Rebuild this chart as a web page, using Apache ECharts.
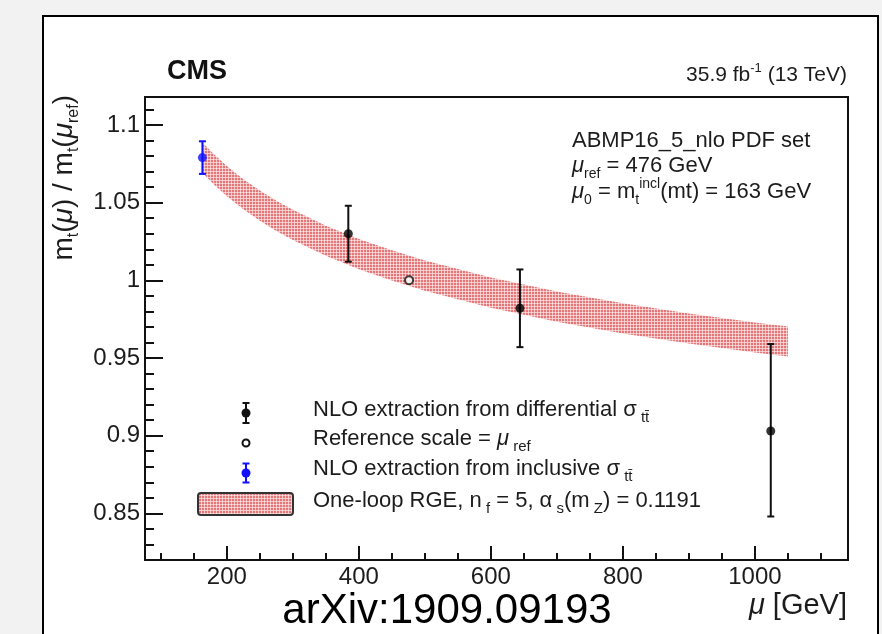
<!DOCTYPE html>
<html><head><meta charset="utf-8">
<script src="https://cdn.jsdelivr.net/npm/echarts@6/dist/echarts.min.js"></script>
<style>
html,body{margin:0;padding:0;background:#f2f2f2;overflow:hidden;width:882px;height:634px}
#panel{position:absolute;left:42px;top:15px;width:837px;height:700px;background:#fff;border:2px solid #000;box-sizing:border-box}
#c{position:absolute;left:0;top:0;width:882px;height:634px}
</style>
</head><body><div id="panel"></div><div id="c"></div>
<script>
// ---- data ----
const muDiff = [384, 644, 1024];
const ratioDiff = [1.030, 0.982, 0.903];
const errDiffUp = [0.018, 0.025, 0.056];
const errDiffDown = [0.018, 0.025, 0.055];
const muRef = [476];
const ratioRef = [1.000];
const muIncl = [163];
const ratioIncl = [1.079];
const errInclUp = [0.0105];
const errInclDown = [0.0105];
const bandMu = [163, 180, 200, 225, 250, 275, 300, 350, 400, 450, 500, 600, 700, 800, 900, 1000, 1050];
const bandLow = [1.0693, 1.0619, 1.0542, 1.0457, 1.0384, 1.0318, 1.0260, 1.0158, 1.0072, 0.9999, 0.9933, 0.9824, 0.9734, 0.9658, 0.9593, 0.9535, 0.9509];
const bandHigh = [1.0887, 1.0813, 1.0736, 1.0651, 1.0578, 1.0512, 1.0454, 1.0352, 1.0266, 1.0193, 1.0127, 1.0018, 0.9928, 0.9852, 0.9787, 0.9729, 0.9703];
const xMajorTicks = [200, 400, 600, 800, 1000];
const xMinorTicks = [100, 150, 250, 300, 350, 450, 500, 550, 650, 700, 750, 850, 900, 950, 1050, 1100];
const yMajorTicks = [0.85, 0.9, 0.95, 1, 1.05, 1.1];
const yMinorTicks = [0.83, 0.84, 0.86, 0.87, 0.88, 0.89, 0.91, 0.92, 0.93, 0.94, 0.96, 0.97, 0.98, 0.99, 1.01, 1.02, 1.03, 1.04, 1.06, 1.07, 1.08, 1.09, 1.11];

const FF = '"Liberation Sans", Arial, Helvetica, sans-serif';
const TXT = '#1c1c1c';

// hatch pattern for the RGE band
function makePattern() {
  const c = document.createElement('canvas');
  c.width = 3; c.height = 3;
  const g = c.getContext('2d');
  g.fillStyle = '#e3777a'; g.fillRect(0, 0, 3, 3);
  g.fillStyle = 'rgba(255,240,240,0.65)';
  g.fillRect(0, 0, 3, 1);
  g.fillRect(0, 0, 1, 3);
  return {image: c, repeat: 'repeat'};
}
const bandFill = makePattern();

function rich(fs, H, sfs, d) {
  const h = H - 2 * d;
  return {
    n: {fontSize: fs, lineHeight: H, fontFamily: FF, fill: TXT},
    g: {fontSize: fs, lineHeight: H, fontFamily: FF, fill: TXT, fontStyle: 'italic'},
    b: {fontSize: sfs, lineHeight: h, fontFamily: FF, fill: TXT, verticalAlign: 'bottom'},
    p: {fontSize: sfs, lineHeight: h, fontFamily: FF, fill: TXT, verticalAlign: 'top'}
  };
}
function txt(x, y, text, r, align, extra) {
  return Object.assign({type: 'text', x: x, y: y, z: 50,
    style: {text: text, rich: r, align: align || 'left', verticalAlign: 'middle', fontFamily: FF, fill: TXT}}, extra || {});
}

const legR = rich(22, 30, 15, 8);
const annR = rich(22, 30, 14, 8);

function errBarRender(color) {
  return function (params, api) {
    const x = api.value(0), y = api.value(1), up = api.value(2), dn = api.value(3);
    const t = api.coord([x, y + up]), b = api.coord([x, y - dn]);
    const cw = 3.5;
    const st = {stroke: color, lineWidth: 2};
    return {type: 'group', children: [
      {type: 'line', shape: {x1: t[0], y1: t[1], x2: b[0], y2: b[1]}, style: st},
      {type: 'line', shape: {x1: t[0] - cw, y1: t[1], x2: t[0] + cw, y2: t[1]}, style: st},
      {type: 'line', shape: {x1: b[0] - cw, y1: b[1], x2: b[0] + cw, y2: b[1]}, style: st}
    ]};
  };
}

function legendBar(cx, cy, color, half) {
  const st = {stroke: color, lineWidth: 2};
  return [
    {type: 'line', z: 50, shape: {x1: cx, y1: cy - half, x2: cx, y2: cy + half}, style: st},
    {type: 'line', z: 50, shape: {x1: cx - 3.5, y1: cy - half, x2: cx + 3.5, y2: cy - half}, style: st},
    {type: 'line', z: 50, shape: {x1: cx - 3.5, y1: cy + half, x2: cx + 3.5, y2: cy + half}, style: st},
    {type: 'circle', z: 51, shape: {cx: cx, cy: cy, r: 4.5}, style: {fill: color}}
  ];
}

const chart = echarts.init(document.getElementById('c'), null, {renderer: 'canvas'});
const axisCommon = {type: 'value', splitLine: {show: false}};
const plainNum = v => String(v);
chart.setOption({
  backgroundColor: 'transparent',
  animation: false,
  grid: {left: 145, right: 34, top: 97, bottom: 74, show: true, borderColor: '#111', borderWidth: 2, containLabel: false, outerBoundsMode: 'none'},
  xAxis: [
    Object.assign({}, axisCommon, {min: 76, max: 1141, position: 'bottom',
      axisLine: {show: true, lineStyle: {color: '#111', width: 2}},
      axisTick: {show: true, inside: true, length: 14, customValues: xMajorTicks, lineStyle: {color: '#111', width: 2}},
      axisLabel: {show: true, customValues: xMajorTicks, formatter: plainNum, fontSize: 24, fontFamily: FF, color: TXT, margin: 5}}),
    Object.assign({}, axisCommon, {min: 76, max: 1141, position: 'bottom', offset: 0,
      axisLine: {show: false},
      axisTick: {show: true, inside: true, length: 7, customValues: xMinorTicks, lineStyle: {color: '#111', width: 2}},
      axisLabel: {show: false}})
  ],
  yAxis: [
    Object.assign({}, axisCommon, {min: 0.82, max: 1.118, position: 'left',
      axisLine: {show: true, lineStyle: {color: '#111', width: 2}},
      axisTick: {show: true, inside: true, length: 18, customValues: yMajorTicks, lineStyle: {color: '#111', width: 2}},
      axisLabel: {show: true, customValues: yMajorTicks, formatter: plainNum, fontSize: 24, fontFamily: FF, color: TXT, margin: 5}}),
    Object.assign({}, axisCommon, {min: 0.82, max: 1.118, position: 'left', offset: 0,
      axisLine: {show: false},
      axisTick: {show: true, inside: true, length: 9, customValues: yMinorTicks, lineStyle: {color: '#111', width: 2}},
      axisLabel: {show: false}})
  ],
  series: [
    {type: 'custom', name: 'band', xAxisIndex: 0, yAxisIndex: 0, z: 2,
      data: [[bandMu[0], bandLow[0]]],
      renderItem: function (params, api) {
        const pts = [];
        for (let i = 0; i < bandMu.length; i++) pts.push(api.coord([bandMu[i], bandHigh[i]]));
        for (let i = bandMu.length - 1; i >= 0; i--) pts.push(api.coord([bandMu[i], bandLow[i]]));
        return {type: 'polygon', shape: {points: pts}, style: {fill: bandFill}};
      }},
    {type: 'custom', name: 'diffErr', z: 5,
      data: muDiff.map((m, i) => [m, ratioDiff[i], errDiffUp[i], errDiffDown[i]]),
      renderItem: errBarRender('#111')},
    {type: 'scatter', name: 'diff', z: 6, symbol: 'circle', symbolSize: 9,
      itemStyle: {color: '#000'},
      data: muDiff.map((m, i) => [m, ratioDiff[i]])},
    {type: 'scatter', name: 'ref', z: 6, symbol: 'circle', symbolSize: 8,
      itemStyle: {color: '#fff', borderColor: '#111', borderWidth: 2},
      data: muRef.map((m, i) => [m, ratioRef[i]])},
    {type: 'custom', name: 'inclErr', z: 5,
      data: muIncl.map((m, i) => [m, ratioIncl[i], errInclUp[i], errInclDown[i]]),
      renderItem: errBarRender('#1010ff')},
    {type: 'scatter', name: 'incl', z: 6, symbol: 'circle', symbolSize: 9,
      itemStyle: {color: '#1010ff'},
      data: muIncl.map((m, i) => [m, ratioIncl[i]])}
  ],
  graphic: {elements: [
    // CMS label and luminosity
    txt(167, 72, 'CMS', null, 'left', {style: {text: 'CMS', fontSize: 27, fontWeight: 'bold', fontFamily: FF, fill: '#111', align: 'left', verticalAlign: 'middle'}}),
    txt(847, 75, '{n|35.9 fb}{p|-1}{n| (13 TeV)}', rich(21, 26, 13, 7), 'right'),
    // annotations
    txt(572, 141, '{n|ABMP16_5_nlo PDF set}', annR),
    txt(572, 166, '{g|μ}{b|ref}{n| = 476 GeV}', annR),
    txt(572, 192, '{g|μ}{b|0}{n| = m}{b|t}{p|incl}{n|(mt) = 163 GeV}', annR),
    // axis titles
    txt(847, 606, '{g|μ}{n| [GeV]}', rich(29, 30, 16, 6), 'right'),
    txt(64, 95, '{n|m}{b|t}{n|(}{g|μ}{n|) / m}{b|t}{n|(}{g|μ}{b|ref}{n|)}', rich(28, 36, 16, 8), 'right', {rotation: Math.PI / 2}),
    // legend
    ...legendBar(246, 413, '#111', 10),
    txt(313, 410, '{n|NLO extraction from differential }{n|σ}{b| tt̄}', legR),
    {type: 'circle', z: 51, shape: {cx: 246, cy: 443, r: 3.5}, style: {fill: '#fff', stroke: '#111', lineWidth: 2}},
    txt(313, 439, '{n|Reference scale = }{g|μ}{b| ref}', legR),
    ...legendBar(246, 473, '#1010ff', 9.5),
    txt(313, 469, '{n|NLO extraction from inclusive }{n|σ}{b| tt̄}', legR),
    {type: 'rect', z: 50, shape: {x: 198, y: 493, width: 95, height: 22, r: 3}, style: {fill: bandFill, stroke: '#333', lineWidth: 2}},
    txt(313, 501, '{n|One-loop RGE, n}{b| f}{n| = 5, α}{b| s}{n|(m}{b| Z}{n|) = 0.1191}', legR),
    // source
    {type: 'text', z: 50, x: 447, y: 611, style: {text: 'arXiv:1909.09193', fontSize: 42, fontFamily: FF, fill: '#000', align: 'center', verticalAlign: 'middle'}}
  ]}
});
</script>
</body></html>
